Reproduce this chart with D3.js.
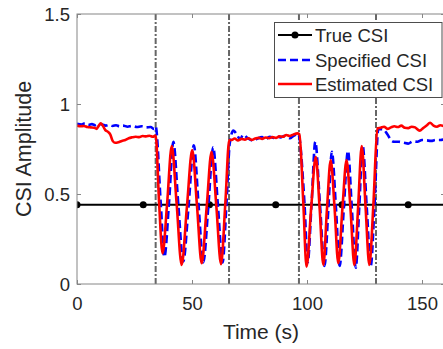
<!DOCTYPE html>
<html>
<head>
<meta charset="utf-8">
<script src="https://cdn.jsdelivr.net/npm/d3@7"></script>
<style>
  body { margin: 0; background: #fff; }
  svg text { font-family: "Liberation Sans", Arial, sans-serif; fill: #262626; }
</style>
</head>
<body>
<svg id="chart" width="443" height="349"></svg>
<script>
// ---- data ----
var xTicks = [0, 50, 100, 150];
var yTicks = [0, 0.5, 1, 1.5];
var yTickLabels = ["0", "0.5", "1", "1.5"];
var boundaries = [34.2, 66.1, 96.5, 130.0];

var trueLineT = [0, 160];
var trueLineV = [0.44, 0.44];
var trueMarkT = [0, 28.8, 57.6, 86.4, 115.2, 144];
var trueMarkV = [0.44, 0.44, 0.44, 0.44, 0.44, 0.44];

var estT = [0, 1.5, 3, 4.5, 6, 7.5, 8.5, 9.5, 10.3, 11.2, 12.3, 13.5, 14.5, 15.5, 16.5, 18, 19.5, 21, 22.5, 24, 25.5, 27, 28.5, 30, 31.5, 33, 34.2,
  35.7, 37.2, 39.2, 41.2, 43.3, 45.5, 47.8, 50.1, 52.2, 54.2, 56.4, 58.5, 60.6, 62.6, 64.5, 66.2,
  67.3, 68.5, 70, 71.5, 73, 74.5, 76, 77.5, 79, 80.5, 82, 83.5, 85, 86.5, 88, 89.5, 91, 92.5, 94, 95.8, 96.7,
  98.4, 99.8, 101.8, 103.8, 105.5, 107.1, 108.7, 110.3, 112.0, 113.6, 115.4, 117.2, 118.9, 120.6, 122.2, 123.8, 125.5, 127.1, 128.9, 130.6,
  132, 133.5, 135, 136.5, 138, 139.5, 141, 142.5, 144, 145.5, 147, 149, 150.5, 152, 153.5, 155, 156.5, 158, 160];
var estV = [0.880, 0.876, 0.878, 0.872, 0.870, 0.868, 0.862, 0.880, 0.893, 0.880, 0.855, 0.845, 0.830, 0.795, 0.785, 0.788, 0.795, 0.800, 0.810, 0.815, 0.818, 0.816, 0.822, 0.820, 0.824, 0.818, 0.825,
  0.45, 0.17, 0.45, 0.767, 0.45, 0.106, 0.43, 0.744, 0.43, 0.115, 0.43, 0.735, 0.43, 0.110, 0.45, 0.800,
  0.800, 0.808, 0.798, 0.806, 0.802, 0.810, 0.800, 0.808, 0.812, 0.806, 0.814, 0.810, 0.816, 0.812, 0.820, 0.818, 0.828, 0.822, 0.830, 0.837, 0.832,
  0.45, 0.096, 0.42, 0.707, 0.42, 0.106, 0.42, 0.689, 0.42, 0.115, 0.42, 0.689, 0.42, 0.106, 0.42, 0.767, 0.42, 0.106, 0.45, 0.865,
  0.868, 0.874, 0.862, 0.870, 0.876, 0.872, 0.880, 0.868, 0.866, 0.874, 0.870, 0.852, 0.866, 0.880, 0.896, 0.880, 0.874, 0.882, 0.874];

var specT = [0, 2, 3.5, 5, 6.5, 8, 9.5, 11, 12.5, 14, 15.5, 17, 18.5, 20, 22, 24, 26, 28, 30, 32, 33.5, 34.2,
  36.4, 38.0, 40.0, 41.9, 44.0, 46.2, 48.5, 50.8, 52.9, 54.9, 57.1, 59.2, 61.3, 63.3, 65.0, 66.4,
  68, 69.5, 70.9, 72.3, 74, 76.7, 78.5, 80.5, 82, 83.9, 85.5, 87, 88.5, 90, 91.5, 92.6, 94, 96.2,
  98.9, 100.3, 102.0, 103.6, 105.6, 107.6, 109.3, 110.8, 112.6, 114.2, 116.0, 117.8, 119.5, 121.2, 122.7, 124.2, 126.0, 127.7, 129.4, 131.0,
  133, 135, 136.5, 138, 140, 142, 144, 146, 148, 150, 152, 154, 156, 158, 160];
var specV = [0.890, 0.886, 0.893, 0.884, 0.888, 0.882, 0.890, 0.886, 0.880, 0.884, 0.878, 0.882, 0.876, 0.880, 0.874, 0.878, 0.872, 0.876, 0.870, 0.872, 0.862, 0.875,
  0.45, 0.15, 0.45, 0.790, 0.45, 0.125, 0.43, 0.770, 0.43, 0.120, 0.43, 0.760, 0.43, 0.120, 0.45, 0.780,
  0.852, 0.830, 0.804, 0.830, 0.812, 0.796, 0.808, 0.816, 0.806, 0.818, 0.812, 0.820, 0.814, 0.822, 0.816, 0.810, 0.822, 0.833,
  0.45, 0.120, 0.45, 0.790, 0.45, 0.100, 0.42, 0.735, 0.42, 0.100, 0.42, 0.740, 0.42, 0.090, 0.42, 0.770, 0.42, 0.100, 0.45, 0.860,
  0.860, 0.830, 0.800, 0.790, 0.790, 0.785, 0.780, 0.792, 0.790, 0.800, 0.798, 0.795, 0.800, 0.800, 0.805];

// ---- layout ----
var margin = { top: 14, right: -2, bottom: 65, left: 77 };
var width = 443 - margin.left - margin.right;
var height = 349 - margin.top - margin.bottom;

var svg = d3.select("#chart");
var g = svg.append("g")
  .attr("transform", "translate(" + margin.left + "," + margin.top + ")");

var x = d3.scaleLinear().domain([0, 160]).range([0, width]);
var y = d3.scaleLinear().domain([0, 1.5]).range([height, 0]);

g.append("clipPath").attr("id", "clip")
  .append("rect").attr("width", width).attr("height", height);

var plot = g.append("g").attr("clip-path", "url(#clip)");

// frame + ticks (MATLAB style, inward)
var axisCol = "#868686";
g.append("rect").attr("width", width).attr("height", height)
  .attr("fill", "none").attr("stroke", axisCol).attr("stroke-width", 1);

var xAxis = d3.axisBottom(x).tickValues(xTicks).tickSize(-4).tickPadding(8).tickFormat(d3.format("d"));
var xTop = d3.axisTop(x).tickValues(xTicks).tickSize(-4).tickFormat("");
var yAxis = d3.axisLeft(y).tickValues(yTicks).tickSize(-4).tickPadding(7)
  .tickFormat(function (d, i) { return yTickLabels[i]; });
var yRight = d3.axisRight(y).tickValues(yTicks).tickSize(-4).tickFormat("");

function styleAxis(sel) {
  sel.select(".domain").remove();
  sel.selectAll(".tick line").attr("stroke", axisCol);
  sel.selectAll(".tick text").attr("font-size", "18.5px").attr("fill", "#262626");
}

g.append("g").attr("transform", "translate(0," + height + ")").call(xAxis).call(styleAxis)
  .selectAll(".tick text").attr("dy", "0.95em");
g.append("g").call(xTop).call(styleAxis);
g.append("g").call(yAxis).call(styleAxis)
  .selectAll(".tick text").attr("dy", "0.35em");
g.append("g").attr("transform", "translate(" + width + ",0)").call(yRight).call(styleAxis);

// segment boundaries
plot.selectAll(".bound")
  .data(boundaries)
  .enter()
  .append("line")
  .attr("class", "bound")
  .attr("x1", function (d) { return x(d); })
  .attr("x2", function (d) { return x(d); })
  .attr("y1", 0)
  .attr("y2", height)
  .attr("stroke", "#666")
  .attr("stroke-width", 2)
  .attr("stroke-dasharray", "6,2,2,2");

var line = d3.line()
  .x(function (d) { return x(d[0]); })
  .y(function (d) { return y(d[1]); })
  .curve(d3.curveMonotoneX);

var zip = function (a, b) { return a.map(function (t, i) { return [t, b[i]]; }); };

// true CSI
plot.append("path")
  .datum(zip(trueLineT, trueLineV))
  .attr("d", line)
  .attr("fill", "none").attr("stroke", "#000").attr("stroke-width", 2);

plot.selectAll(".dot")
  .data(zip(trueMarkT, trueMarkV))
  .enter()
  .append("circle")
  .attr("class", "dot")
  .attr("cx", function (d) { return x(d[0]); })
  .attr("cy", function (d) { return y(d[1]); })
  .attr("r", 3.5)
  .attr("fill", "#000");

// specified CSI
plot.append("path")
  .datum(zip(specT, specV))
  .attr("d", line)
  .attr("fill", "none").attr("stroke", "#0000ff").attr("stroke-width", 2.6)
  .attr("stroke-dasharray", "8,4");

// estimated CSI
plot.append("path")
  .datum(zip(estT, estV))
  .attr("d", line)
  .attr("fill", "none").attr("stroke", "#ff0000").attr("stroke-width", 2.6);

// axis labels
svg.append("text")
  .attr("x", margin.left + x(80))
  .attr("y", 339)
  .attr("text-anchor", "middle")
  .attr("font-size", "21px")
  .text("Time (s)");

svg.append("text")
  .attr("transform", "translate(31," + (margin.top + height / 2) + ") rotate(-90)")
  .attr("text-anchor", "middle")
  .attr("font-size", "21.5px")
  .text("CSI Amplitude");

// legend
var leg = svg.append("g");
leg.append("rect")
  .attr("x", 274.5).attr("y", 22.5).attr("width", 167.5).attr("height", 75)
  .attr("fill", "#fff").attr("stroke", "#4d4d4d").attr("stroke-width", 1);

var legItems = [
  { label: "True CSI", color: "#000", dash: null, marker: true, w: 2 },
  { label: "Specified CSI", color: "#0000ff", dash: "8,4", marker: false, w: 2.6 },
  { label: "Estimated CSI", color: "#ff0000", dash: null, marker: false, w: 2.6 }
];
var legY = [35, 60, 84];

legItems.forEach(function (it, i) {
  leg.append("line")
    .attr("x1", 278).attr("x2", 312)
    .attr("y1", legY[i]).attr("y2", legY[i])
    .attr("stroke", it.color).attr("stroke-width", it.w)
    .attr("stroke-dasharray", it.dash);
  if (it.marker) {
    leg.append("circle").attr("cx", 295).attr("cy", legY[i]).attr("r", 3.5).attr("fill", "#000");
  }
  leg.append("text")
    .attr("x", 315).attr("y", legY[i] + 6.6)
    .attr("font-size", "18.5px")
    .text(it.label);
});
</script>
</body>
</html>
